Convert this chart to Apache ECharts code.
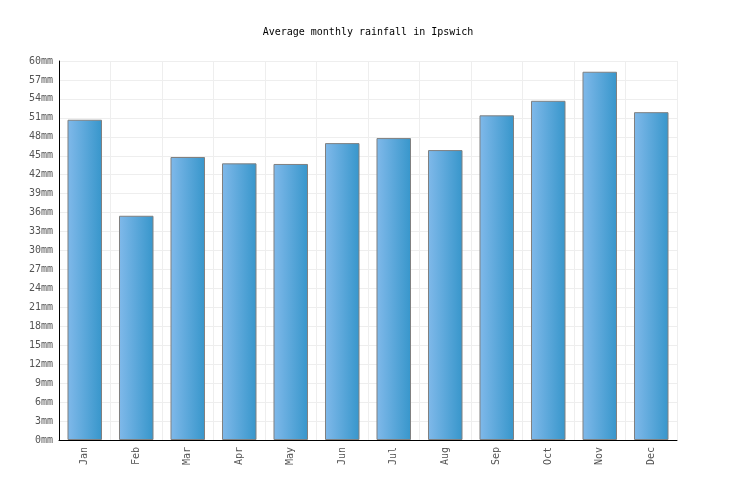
<!DOCTYPE html>
<html>
<head>
<meta charset="utf-8">
<script src="https://cdn.jsdelivr.net/npm/echarts@6/dist/echarts.min.js"></script>
<style>
  html, body { margin: 0; padding: 0; background: #fff; }
  #main { width: 736px; height: 500px; }
</style>
</head>
<body>
<div id="main"></div>
<script>
var titleText = 'Average monthly rainfall in Ipswich';
var months = ['Jan', 'Feb', 'Mar', 'Apr', 'May', 'Jun', 'Jul', 'Aug', 'Sep', 'Oct', 'Nov', 'Dec'];
var rainfall = [50.7, 35.5, 44.8, 43.8, 43.7, 47.0, 47.8, 45.9, 51.4, 53.7, 58.3, 51.9];
var yMax = 60;
var yStep = 3;

var monoFont = 'DejaVu Sans Mono';

// 基于准备好的dom，初始化echarts实例
var myChart = echarts.init(document.getElementById('main'));

var option = {
    animation: false,
    title: {
        text: titleText,
        left: 'center',
        top: 22,
        textStyle: { fontFamily: monoFont, fontSize: 10, fontWeight: 'normal', color: '#000' }
    },
    grid: { left: 59, right: 59, top: 61, bottom: 60 },
    xAxis: {
        type: 'category',
        data: months,
        axisLine: { lineStyle: { color: '#000', width: 1 } },
        axisTick: { show: false },
        axisLabel: { rotate: 90, fontFamily: monoFont, fontSize: 10, color: '#555', margin: 7, padding: [6, 0, 0, 0] },
        splitLine: { show: true, interval: 0, lineStyle: { color: '#eee' } }
    },
    yAxis: {
        type: 'value',
        min: 0,
        max: yMax,
        interval: yStep,
        axisLine: { show: true, lineStyle: { color: '#000', width: 1 } },
        axisTick: { show: false },
        axisLabel: { formatter: '{value}mm', fontFamily: monoFont, fontSize: 10, color: '#555', margin: 6 },
        splitLine: { lineStyle: { color: '#eee' } }
    },
    series: [{
        type: 'bar',
        data: rainfall,
        barWidth: '67%',
        itemStyle: {
            color: new echarts.graphic.LinearGradient(0, 0, 1, 0, [
                { offset: 0, color: '#80b9ea' },
                { offset: 1, color: '#3796cb' }
            ]),
            borderColor: '#808080',
            borderWidth: 1
        }
    }]
};
myChart.setOption(option);
</script>
</body>
</html>
